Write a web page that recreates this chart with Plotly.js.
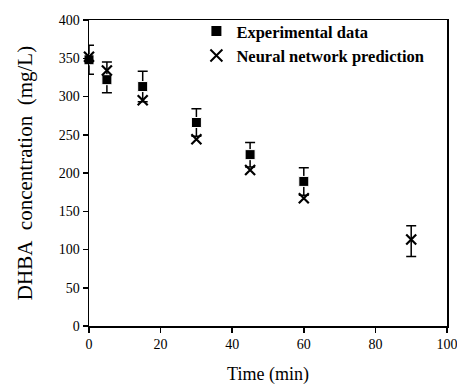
<!DOCTYPE html>
<html>
<head>
<meta charset="utf-8">
<script src="https://cdn.plot.ly/plotly-3.0.1.min.js"></script>
<style>html,body{margin:0;padding:0;background:#fff;}#chart{width:457px;height:389px;}</style>
</head>
<body>
<div id="chart"></div>
<script>
// Data
var timeMin = [0, 5, 15, 30, 45, 60, 90];
var experimental = [348, 322, 313, 266, 224, 189, 111];
var expErrPlus = [19, 23, 20, 18, 16, 18, 20];
var expErrMinus = [19, 17, 20, 18, 16, 18, 20];
var predicted = [352, 334, 295, 244, 204, 167, 113];
var xTicks = [0, 20, 40, 60, 80, 100];
var yTicks = [0, 50, 100, 150, 200, 250, 300, 350, 400];

var serif = "Liberation Serif, Times New Roman, serif";

var traces = [
  {
    x: timeMin, y: experimental, type: "scatter", mode: "markers",
    name: "<b>Experimental data</b>",
    cliponaxis: false,
    marker: {symbol: "square", color: "#000", opacity: 1, size: [10, 10, 10, 10, 10, 10, 0]},
    error_y: {type: "data", symmetric: false, array: expErrPlus, arrayminus: expErrMinus,
              color: "#000", thickness: 1.5, width: 5}
  },
  {
    x: timeMin, y: predicted, type: "scatter", mode: "markers",
    name: "<b>Neural network prediction</b>",
    cliponaxis: false,
    marker: {symbol: "x-thin-open", color: "#000", opacity: 1, size: 10, line: {width: 2.2, color: "#000"}}
  }
];

var layout = {
  width: 457, height: 389,
  margin: {l: 89, r: 10, t: 20, b: 63},
  paper_bgcolor: "#fff", plot_bgcolor: "#fff",
  font: {family: serif, color: "#000", size: 14},
  showlegend: true,
  legend: {x: 0.30, y: 1.02, xanchor: "left", yanchor: "top", bgcolor: "rgba(0,0,0,0)",
           font: {family: serif, size: 16.5, color: "#000"}, tracegroupgap: 0, itemwidth: 30,
           itemsizing: "constant"},
  xaxis: {
    range: [0, 100], tickvals: xTicks, ticktext: xTicks.map(String),
    showgrid: false, zeroline: false, showline: true, linecolor: "#000", linewidth: 1.5,
    mirror: true, ticks: "outside", ticklen: 5, tickwidth: 1.5, tickcolor: "#000",
    tickfont: {family: serif, size: 14}, ticklabeloverflow: "allow", automargin: false,
    title: {text: "Time (min)", font: {family: serif, size: 18}, standoff: 16}
  },
  yaxis: {
    range: [0, 400], tickvals: yTicks, ticktext: yTicks.map(String),
    showgrid: false, zeroline: false, showline: true, linecolor: "#000", linewidth: 1.5,
    mirror: true, ticks: "outside", ticklen: 5, tickwidth: 1.5, tickcolor: "#000",
    tickfont: {family: serif, size: 14},
    title: {text: "\u00a0\u00a0\u00a0\u00a0\u00a0DHBA\u00a0\u00a0concentration\u00a0\u00a0(mg/L)", font: {family: serif, size: 21}, standoff: 20}
  }
};

Plotly.newPlot("chart", traces, layout, {staticPlot: true, displayModeBar: false});
</script>
</body>
</html>
